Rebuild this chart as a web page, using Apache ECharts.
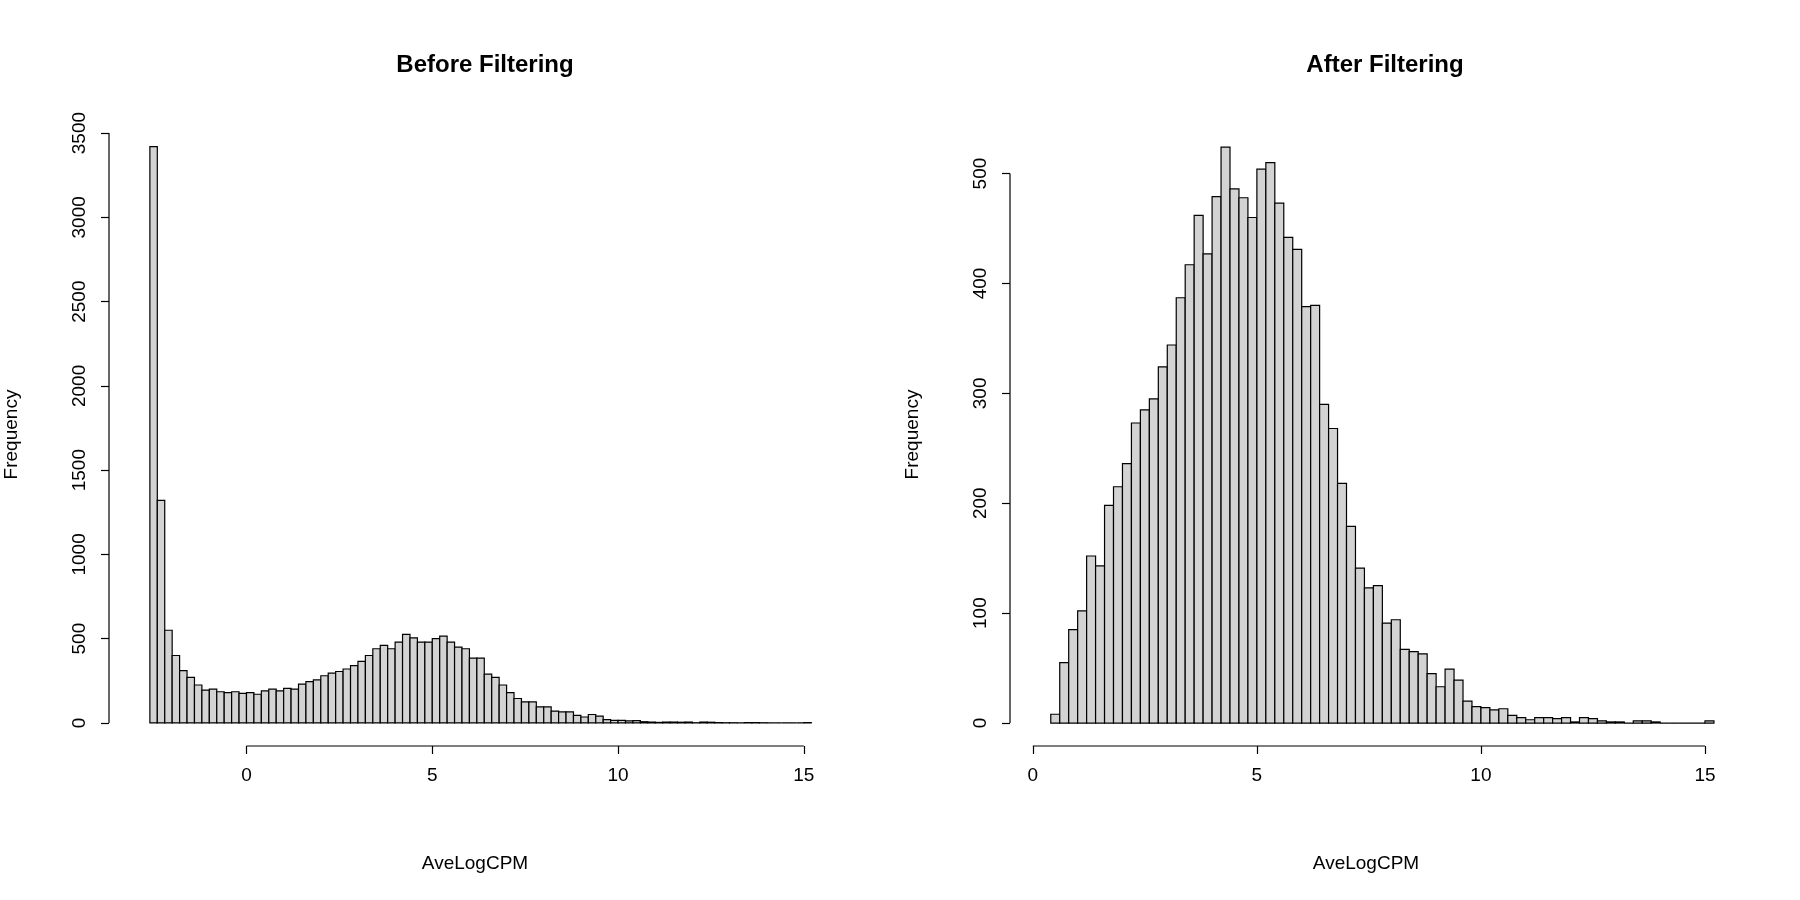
<!DOCTYPE html>
<html><head><meta charset="utf-8">
<script src="https://cdn.jsdelivr.net/npm/echarts@6/dist/echarts.min.js"></script>
<style>html,body{margin:0;background:#fff}#c{width:1800px;height:900px}</style>
</head><body><div id="c"></div>
<script>
const binWidth = 0.2;
const beforeStart = -2.6;
const beforeCounts = [3420,1320,550,400,310,270,225,195,200,185,180,185,175,180,170,190,200,190,205,200,230,245,255,280,295,305,320,340,365,400,440,460,440,480,525,505,480,480,500,515,480,450,440,385,385,290,270,225,180,145,125,125,95,95,70,65,65,45,35,50,40,20,15,15,12,13,7,5,3,5,5,4,5,1,5,4,2,1,1,0,2,2,1,0,0,0,0,0,2];
const afterStart = 0.4;
const afterCounts = [8,55,85,102,152,143,198,215,236,273,285,295,324,344,387,417,462,427,479,524,486,478,460,504,510,473,442,431,379,380,290,268,218,179,141,123,125,91,94,67,65,63,45,33,49,39,20,15,14,12,13,7,5,3,5,5,4,5,1,5,4,2,1,1,0,2,2,1,0,0,0,0,0,2];
const xTicks = [0,5,10,15];
const yTicksBefore = [0,500,1000,1500,2000,2500,3000,3500];
const yTicksAfter = [0,100,200,300,400,500];

function bins(start, counts){ return counts.map((c,i)=>[+(start+i*binWidth).toFixed(2), +(start+(i+1)*binWidth).toFixed(2), c]); }
const font = 'Liberation Sans, Arial, sans-serif';
const barItem = (p, api) => {
  const a = api.coord([api.value(0), api.value(2)]);
  const b = api.coord([api.value(1), 0]);
  return {type:'rect', shape:{x:a[0], y:a[1], width:b[0]-a[0], height:b[1]-a[1]},
    style:{fill:'#d3d3d3', stroke:'#000', lineWidth:1.2}};
};
function axesSeries(idx, xmin, ymin, ymax){
  return {type:'custom', xAxisIndex:idx, yAxisIndex:idx, data:[[0]], silent:true,
    renderItem:(p, api)=>{
      const x0=api.coord([xTicks[0], ymin]), x1=api.coord([xTicks[xTicks.length-1], ymin]);
      const y0=api.coord([xmin, 0]), y1=api.coord([xmin, ymax]);
      return {type:'group', children:[
        {type:'line', shape:{x1:x0[0],y1:x0[1],x2:x1[0],y2:x1[1]}, style:{stroke:'#000',lineWidth:1.2}},
        {type:'line', shape:{x1:y0[0],y1:y0[1],x2:y1[0],y2:y1[1]}, style:{stroke:'#000',lineWidth:1.2}}
      ]};
    }};
}
function xAxis(idx, min, max){
  return {type:'value', gridIndex:idx, min, max, splitLine:{show:false}, axisLine:{show:false, onZero:false},
    axisTick:{show:true, customValues:xTicks, length:8, lineStyle:{color:'#000', width:1.2}},
    axisLabel:{customValues:xTicks, color:'#000', fontSize:19, fontFamily:font, margin:20, formatter:v=>String(v)},
    name:'AveLogCPM', nameLocation:'middle', nameGap:108, nameTextStyle:{color:'#000', fontSize:19, fontFamily:font}};
}
function yAxis(idx, min, max, ticks){
  return {type:'value', gridIndex:idx, min, max, splitLine:{show:false}, axisLine:{show:false, onZero:false},
    axisTick:{show:true, customValues:ticks, length:8, lineStyle:{color:'#000', width:1.2}},
    axisLabel:{customValues:ticks, rotate:90, color:'#000', fontSize:19, fontFamily:font, margin:20, formatter:v=>String(v)},
    name:'Frequency', nameLocation:'middle', nameGap:88, nameTextStyle:{color:'#000', fontSize:19, fontFamily:font}};
}
const L = {xmin:-3.7, xmax:16.0, ymin:-137, ymax:3560};
const R = {xmin:-0.51, xmax:15.38, ymin:-20.9, ymax:546};
const chart = echarts.init(document.getElementById('c'));
chart.setOption({
  animation:false,
  title:[
    {text:'Before Filtering', left:480, top:48, textAlign:'center', textStyle:{fontSize:24, fontWeight:'bold', color:'#000', fontFamily:font}},
    {text:'After Filtering', left:1380, top:48, textAlign:'center', textStyle:{fontSize:24, fontWeight:'bold', color:'#000', fontFamily:font}}
  ],
  grid:[
    {left:109, top:123, width:732, height:623},
    {left:1010, top:123, width:712, height:623}
  ],
  xAxis:[xAxis(0,L.xmin,L.xmax), xAxis(1,R.xmin,R.xmax)],
  yAxis:[yAxis(0,L.ymin,L.ymax,yTicksBefore), yAxis(1,R.ymin,R.ymax,yTicksAfter)],
  series:[
    {type:'custom', xAxisIndex:0, yAxisIndex:0, data:bins(beforeStart, beforeCounts), renderItem:barItem, encode:{x:[0,1], y:2}},
    {type:'custom', xAxisIndex:1, yAxisIndex:1, data:bins(afterStart, afterCounts), renderItem:barItem, encode:{x:[0,1], y:2}},
    axesSeries(0, L.xmin, L.ymin, 3500),
    axesSeries(1, R.xmin, R.ymin, 500)
  ]
});
</script></body></html>
